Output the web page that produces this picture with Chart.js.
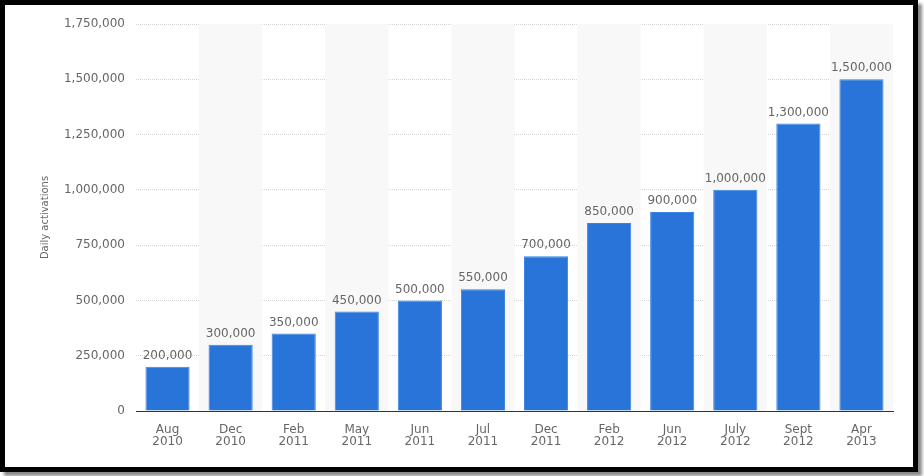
<!DOCTYPE html>
<html>
<head>
<meta charset="utf-8">
<script src="https://cdn.jsdelivr.net/npm/chart.js@4"></script>
<style>
    html, body { margin: 0; padding: 0; background: #fff; }
    #frame {
        position: absolute; left: 0; top: 0;
        width: 908px; height: 462px;
        border: 5px solid #000;
        box-shadow: 4px 4px 3px #8a8a8a;
        background: #fff;
    }
    #chart { display: block; }
</style>
</head>
<body>
<div id="frame"><canvas id="chart" width="908" height="462"></canvas></div>
<script>
var months = ['Aug', 'Dec', 'Feb', 'May', 'Jun', 'Jul', 'Dec', 'Feb', 'Jun', 'July', 'Sept', 'Apr'];
var years = ['2010', '2010', '2011', '2011', '2011', '2011', '2011', '2012', '2012', '2012', '2012', '2013'];
var activations = [200000, 300000, 350000, 450000, 500000, 550000, 700000, 850000, 900000, 1000000, 1300000, 1500000];
var yTicks = [0, 250000, 500000, 750000, 1000000, 1250000, 1500000, 1750000];

var labels = months.map(function (m, i) { return [m, years[i]]; });

function fmt(v) {
    return v.toLocaleString('en-US');
}

// shade every other category column
var bands = {
    id: 'bands',
    beforeDatasetsDraw: function (chart) {
        var ctx = chart.ctx, x = chart.scales.x, area = chart.chartArea;
        var step = (area.right - area.left) / labels.length;
        ctx.save();
        ctx.fillStyle = '#f8f8f8';
        for (var i = 1; i < labels.length; i += 2) {
            var c = x.getPixelForValue(i);
            ctx.fillRect(c - step / 2, area.top, step, area.bottom - area.top);
        }
        ctx.restore();
    }
};

// value labels over the bars
var valueLabels = {
    id: 'valueLabels',
    afterDatasetsDraw: function (chart) {
        var ctx = chart.ctx;
        var meta = chart.getDatasetMeta(0);
        ctx.save();
        ctx.font = '12px "DejaVu Sans"';
        ctx.fillStyle = '#666';
        ctx.textAlign = 'center';
        ctx.textBaseline = 'bottom';
        meta.data.forEach(function (bar, i) {
            ctx.fillText(fmt(activations[i]), bar.x, bar.y - 5);
        });
        ctx.restore();
    }
};

new Chart(document.getElementById('chart'), {
    type: 'bar',
    data: {
        labels: labels,
        datasets: [{
            data: activations,
            backgroundColor: '#2874d9',
            borderColor: '#3a82e0',
            borderWidth: { left: 1, right: 1, top: 1, bottom: 0 },
            barPercentage: 0.7,
            categoryPercentage: 1
        }]
    },
    options: {
        responsive: false,
        animation: false,
        layout: { padding: { left: 34, right: 20, top: 19, bottom: 0 } },
        plugins: {
            legend: { display: false },
            tooltip: { enabled: false }
        },
        scales: {
            x: {
                grid: { display: false, drawTicks: false },
                border: { display: true, color: '#2b3544', width: 1 },
                ticks: {
                    color: '#666',
                    font: { family: 'DejaVu Sans', size: 12, lineHeight: 1.0 },
                    padding: 13,
                    maxRotation: 0
                },
                afterFit: function (s) { s.height = 56; }
            },
            y: {
                min: 0,
                max: 1750000,
                afterBuildTicks: function (s) {
                    s.ticks = yTicks.map(function (v) { return { value: v }; });
                },
                grid: {
                    color: '#d4d4d4',
                    drawTicks: false
                },
                border: { display: false, dash: [1, 1] },
                ticks: {
                    color: '#666',
                    font: { family: 'DejaVu Sans', size: 12 },
                    padding: 11,
                    callback: function (v) { return fmt(v); }
                },
                title: {
                    display: true,
                    text: 'Daily activations',
                    color: '#666',
                    font: { family: 'DejaVu Sans', size: 10 },
                    padding: 0
                },
                afterFit: function (s) { s.width = 97; }
            }
        }
    },
    plugins: [bands, valueLabels]
});
</script>
</body>
</html>
